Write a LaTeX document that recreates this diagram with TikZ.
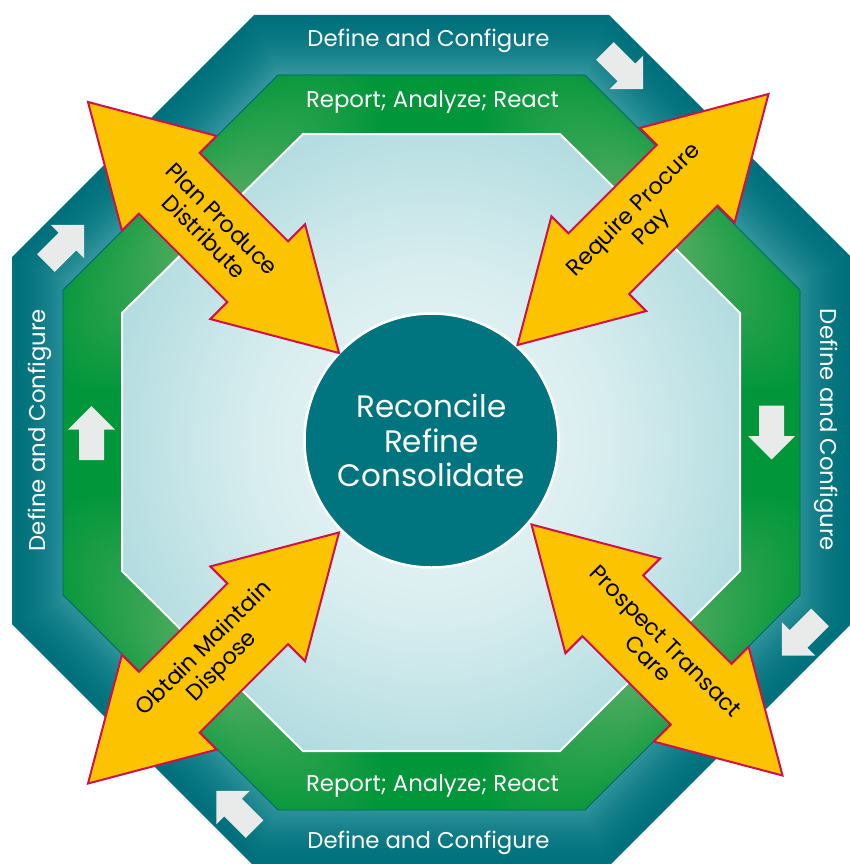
\documentclass[tikz,border=0pt]{standalone}
\usepackage{fontspec}
\setmainfont{Poppins}
\definecolor{tealD}{HTML}{00717C}
\definecolor{tealL}{HTML}{3E9EA5}
\definecolor{tealEdge}{HTML}{006570}
\definecolor{greenD}{HTML}{009639}
\definecolor{greenL}{HTML}{5CAF65}
\definecolor{cyanE}{HTML}{9CD2D7}
\definecolor{cyanM}{HTML}{D8EDEF}
\definecolor{cyanC}{HTML}{EEF7F8}
\definecolor{hubc}{HTML}{00747F}
\definecolor{gold}{HTML}{FCC300}
\definecolor{crimson}{HTML}{D0104C}
\definecolor{chipgray}{HTML}{E9EBEB}
\pgfdeclareradialshading{cyanshade}{\pgfpointorigin}{color(0bp)=(cyanC); color(13bp)=(cyanM); color(31.2bp)=(cyanE); color(50bp)=(cyanE)}
\tikzset{
  bandtext/.style={text=white, font=\fontsize{22.8}{26}\selectfont, inner sep=0pt, anchor=base},
  armtext/.style={text=black, align=center, font=\fontsize{22.5}{25}\selectfont, inner sep=0pt},
  hub/.style={circle, fill=hubc, draw=white, line width=2.5pt, minimum size=254pt, inner sep=0pt, text=white, align=center, font=\fontsize{31}{34.5}\selectfont},
  bigarrow/.style={fill=gold, draw=crimson, line width=2pt, line join=miter},
  flowchip/.style={fill=chipgray},
}
\newcommand{\DoubleArm}[3]{%
  \begin{scope}[shift={(#1,#2)}, rotate=#3]
    \path[bigarrow] (-177.5,0) -- (-62.5,67) -- (-62.5,43) -- (62.5,43) -- (62.5,67) -- (177.5,0) -- (62.5,-67) -- (62.5,-43) -- (-62.5,-43) -- (-62.5,-67) -- cycle;
  \end{scope}}
\newcommand{\FlowChip}[3]{%
  \begin{scope}[shift={(#1,#2)}, rotate=#3]
    \path[flowchip] (-27,-12.5) -- (3.5,-12.5) -- (3.5,-23.5) -- (27,0) -- (3.5,23.5) -- (3.5,12.5) -- (-27,12.5) -- cycle;
  \end{scope}}
\begin{document}
\begin{tikzpicture}[x=1pt, y=-1pt]
\useasboundingbox (0,0) rectangle (850,864);
\clip (0,0) rectangle (850,864);
% outer teal band: stepped blend from dark rim to lighter inner edge
\foreach \k in {0,...,24} {
  \pgfmathsetmacro{\s}{1-0.0064*\k}
  \pgfmathsetmacro{\p}{100*(\k/24)^1.7}
  \fill[tealL!\p!tealD, scale around={\s:(431,441)}] (254,15) -- (609,15) -- (851,257) -- (851,624) -- (609,866) -- (254,866) -- (12,624) -- (12,257) -- cycle;
}
% green band
\begin{scope}
  \clip (278,75) -- (585,75) -- (800,290) -- (800,595) -- (585,810) -- (278,810) -- (63,595) -- (63,290) -- cycle;
  \fill[greenD] (0,0) rectangle (850,864);
  \foreach \cx/\cy/\ang in {212.5/223.5/45, 650/223.5/-45, 212.5/661/-45, 650/661/45} {
    \begin{scope}[transform canvas={shift={(\cx,\cy)}, rotate=\ang}]
      \shade[inner color=greenL, outer color=greenD] (0,0) ellipse [x radius=220pt, y radius=100pt];
    \end{scope}
  }
\end{scope}
\draw[tealEdge, line width=0.8pt] (278,75) -- (585,75) -- (800,290) -- (800,595) -- (585,810) -- (278,810) -- (63,595) -- (63,290) -- cycle;
% inner light octagon
\begin{scope}
  \clip (303,134) -- (560,134) -- (740,313) -- (740,571) -- (560,751) -- (303,751) -- (122,571) -- (122,313) -- cycle;
  \shade[shading=cyanshade] (91,102.5) rectangle (771,782.5);
\end{scope}
\draw[white, line width=2pt] (303,134) -- (560,134) -- (740,313) -- (740,571) -- (560,751) -- (303,751) -- (122,571) -- (122,313) -- cycle;
% hub
\node[hub] (core) at (431.5,440.5) {Reconcile\\Refine\\Consolidate};
% double arrows
\DoubleArm{213.5}{227.5}{-45}
\DoubleArm{643}{219.5}{45}
\DoubleArm{213.5}{658}{45}
\DoubleArm{657}{650}{-45}
\node[armtext, rotate=-45] (plan) at (213.5,227.5) {Plan Produce\\Distribute};
\node[armtext, rotate=45] (require) at (643,219.5) {Require Procure\\Pay};
\node[armtext, rotate=45] (obtain) at (213.5,658) {Obtain Maintain\\Dispose};
\node[armtext, rotate=-45] (prospect) at (657,650) {Prospect Transact\\Care};
% flow chips
\FlowChip{624}{70}{-45}
\FlowChip{771.5}{432.5}{-90}
\FlowChip{801}{636.5}{-135}
\FlowChip{235.5}{810}{135}
\FlowChip{91.5}{433}{90}
\FlowChip{65}{244}{45}
% band texts
\node[bandtext] (dctop) at (428.5,47) {Define and Configure};
\node[bandtext] (ratop) at (432.5,108) {Report; Analyze; React};
\node[bandtext] (rabot) at (432.5,791) {Report; Analyze; React};
\node[bandtext] (dcbot) at (428.5,848) {Define and Configure};
\node[bandtext, rotate=90] (dcleft) at (45,430) {Define and Configure};
\node[bandtext, rotate=-90] (dcright) at (820,430) {Define and Configure};
\end{tikzpicture}
\end{document}
